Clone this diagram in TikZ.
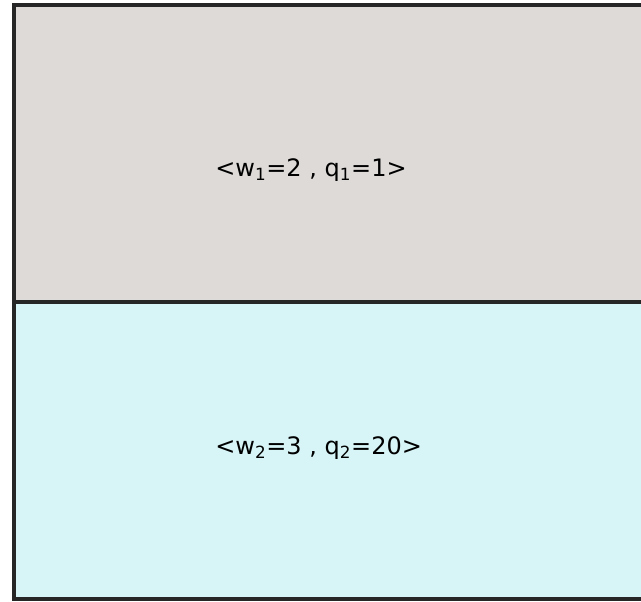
\documentclass[tikz,border=0pt]{standalone}
\usepackage{fontspec}
\setmainfont{DejaVu Sans}
\usetikzlibrary{positioning}
\definecolor{topfill}{HTML}{DEDAD7}
\definecolor{botfill}{HTML}{D7F4F6}

\begin{document}
\begin{tikzpicture}[
        x=0.75pt, y=-0.75pt,
        font=\fontsize{18}{21}\selectfont,
        part/.style={draw=black!85, line width=2.3pt},
        label/.style={anchor=west, inner sep=0pt}
    ]
        \useasboundingbox (0,0) rectangle (641,601);
        \clip (0,0) rectangle (641,601);

        \filldraw[part, fill=topfill] (14,5) rectangle (650,302);
        \filldraw[part, fill=botfill] (14,302) rectangle (650,599);

        \node[label] (first) at (215,170) {<w\textsubscript{1}=2 , q\textsubscript{1}=1>};
        \node[label] (second) at (215,448) {<w\textsubscript{2}=3 , q\textsubscript{2}=20>};
    \end{tikzpicture}
\end{document}
